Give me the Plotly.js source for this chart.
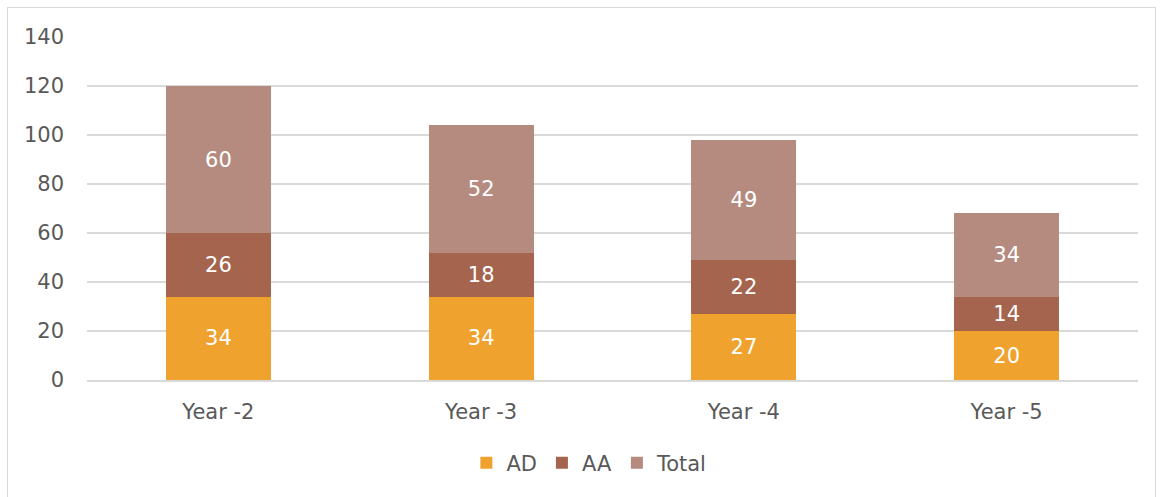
<!DOCTYPE html>
<html>
<head>
<meta charset="utf-8">
<script src="https://cdn.plot.ly/plotly-3.0.1.min.js"></script>
<style>
html,body{margin:0;padding:0;background:#fff;}
#wrap{position:relative;width:1161px;height:497px;}
#chart{width:1161px;height:497px;}
#frame{position:absolute;left:7px;top:7px;width:1149px;height:495px;border:1.5px solid #d9d9d9;box-sizing:border-box;pointer-events:none;}
</style>
</head>
<body>
<div id="wrap"><div id="chart"></div><div id="frame"></div></div>
<script>
const categories = ["Year -2", "Year -3", "Year -4", "Year -5"];
const adValues = [34, 34, 27, 20];
const aaValues = [26, 18, 22, 14];
const totalValues = [60, 52, 49, 34];
const yTicks = [0, 20, 40, 60, 80, 100, 120, 140];

const FONT = "'DejaVu Sans', sans-serif";
function bar(name, vals, color) {
  return {
    type: "bar", name: name, x: categories, y: vals,
    marker: {color: color},
    text: vals.map(String), textposition: "inside", insidetextanchor: "middle",
    textfont: {color: "#ffffff", size: 21, family: FONT},
    hoverinfo: "skip"
  };
}
const data = [
  bar("AD", adValues, "#F0A22E"),
  bar("AA", aaValues, "#A5644E"),
  bar("Total", totalValues, "#B58B80")
];
const layout = {
  width: 1161, height: 497,
  margin: {l: 87, r: 23, t: 37, b: 117, autoexpand: false},
  barmode: "stack", bargap: 0.6,
  paper_bgcolor: "#ffffff", plot_bgcolor: "#ffffff",
  font: {family: FONT, color: "#595959", size: 21},
  xaxis: {
    type: "category", showgrid: false, zeroline: false,
    showline: true, linecolor: "#d9d9d9", linewidth: 1.5,
    ticks: "", ticklabelstandoff: 12,
    tickfont: {size: 21, color: "#595959", family: FONT}
  },
  yaxis: {
    range: [0, 140], tickvals: yTicks, ticktext: yTicks.map(String),
    showgrid: true, gridcolor: "#d9d9d9", gridwidth: 1.5,
    zeroline: false, showline: false, ticks: "", ticklen: 0,
    ticklabelstandoff: 22,
    tickfont: {size: 21, color: "#595959", family: FONT}
  },
  legend: {
    orientation: "h", x: 0.478, xanchor: "center", y: -0.242, yanchor: "middle",
    font: {size: 21, color: "#595959", family: FONT},
    itemwidth: 30, traceorder: "normal"
  },
  showlegend: true
};
Plotly.newPlot("chart", data, layout, {displayModeBar: false, staticPlot: true});
</script>
</body>
</html>
